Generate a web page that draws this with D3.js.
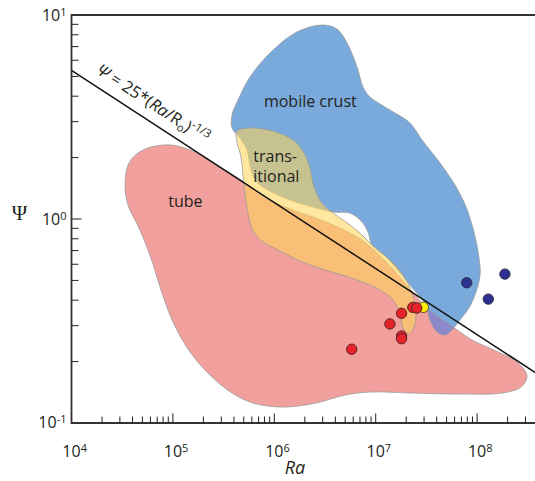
<!DOCTYPE html>
<html><head><meta charset="utf-8">
<script src="https://cdn.jsdelivr.net/npm/d3@7"></script>
<style>body{margin:0;background:#fff} svg{display:block;background:#fff}</style>
</head><body><svg id="c" width="535" height="481"></svg>
<script>
// ---------- data ----------
const xDomain = [1e4, 3.8e8];
const yDomain = [0.1, 10];
const xMajorTicks = [1e4, 1e5, 1e6, 1e7, 1e8];
const xTickExponents = ["4", "5", "6", "7", "8"];
const yMajorTicks = [10, 1, 0.1];
const yTickExponents = ["1", "0", "-1"];

// region outlines, [log10 Ra, log10 Psi]
const tubeOutline = [[4.528,0.167],[4.567,0.275],[4.705,0.338],[4.971,0.363],[5.238,0.324],[5.484,0.250],[5.731,0.172],[5.889,0.113],[6.155,0.049],[6.382,0.010],[6.648,-0.044],[6.875,-0.108],[7.013,-0.167],[7.161,-0.240],[7.289,-0.314],[7.397,-0.377],[7.506,-0.436],[7.762,-0.529],[7.950,-0.593],[8.186,-0.647],[8.394,-0.701],[8.492,-0.770],[8.433,-0.824],[8.246,-0.853],[7.831,-0.858],[7.338,-0.853],[6.944,-0.848],[6.697,-0.863],[6.411,-0.902],[6.086,-0.922],[5.790,-0.902],[5.583,-0.853],[5.366,-0.765],[5.169,-0.652],[5.001,-0.505],[4.883,-0.348],[4.784,-0.191],[4.666,-0.044],[4.557,0.069]];
const mobileOutline = [[6.480,0.951],[6.618,0.931],[6.717,0.863],[6.816,0.745],[6.875,0.647],[6.944,0.598],[7.141,0.534],[7.338,0.471],[7.457,0.387],[7.634,0.275],[7.782,0.167],[7.891,0.059],[7.969,-0.064],[8.019,-0.191],[8.029,-0.275],[7.989,-0.358],[7.920,-0.436],[7.831,-0.495],[7.752,-0.544],[7.683,-0.569],[7.605,-0.554],[7.535,-0.495],[7.496,-0.422],[7.378,-0.348],[7.240,-0.265],[7.102,-0.186],[6.964,-0.127],[6.924,-0.064],[6.865,-0.015],[6.747,0.029],[6.579,0.034],[6.382,0.059],[6.155,0.093],[5.938,0.142],[5.810,0.191],[5.760,0.265],[5.731,0.338],[5.662,0.397],[5.583,0.446],[5.583,0.510],[5.642,0.583],[5.760,0.696],[5.958,0.814],[6.224,0.917]];
const transOutline = [[5.632,0.431],[5.760,0.446],[5.987,0.431],[6.184,0.387],[6.283,0.333],[6.352,0.250],[6.392,0.157],[6.470,0.078],[6.579,0.029],[6.707,-0.015],[6.835,-0.064],[6.954,-0.123],[7.072,-0.172],[7.200,-0.230],[7.299,-0.299],[7.368,-0.377],[7.397,-0.461],[7.378,-0.529],[7.328,-0.564],[7.269,-0.534],[7.240,-0.461],[7.171,-0.397],[7.042,-0.348],[6.894,-0.314],[6.727,-0.284],[6.470,-0.245],[6.253,-0.206],[6.056,-0.157],[5.889,-0.113],[5.790,-0.059],[5.741,0.024],[5.711,0.118],[5.691,0.216],[5.672,0.304],[5.632,0.377]];

// scaling line end points
const lineRa = [1e4, 3.8e8];
const linePsi = [5.35, 0.176];

// model points
const yellowRa = [2.95e7];
const yellowPsi = [0.369];
const redRa = [5.8e6, 1.38e7, 1.80e7, 1.80e7, 1.80e7, 2.32e7, 2.54e7];
const redPsi = [0.230, 0.306, 0.345, 0.267, 0.259, 0.369, 0.366];
const blueRa = [7.9e7, 1.88e8, 1.29e8];
const bluePsi = [0.487, 0.537, 0.405];

const regionLabels = [
  {text: "mobile crust", ra: 7.9e5, psi: 3.54},
  {text: "trans-", ra: 6.2e5, psi: 1.91},
  {text: "itional", ra: 6.2e5, psi: 1.51},
  {text: "tube", ra: 9.0e4, psi: 1.14}
];

// ---------- drawing ----------
const svg = d3.select("#c");
const FONT = "'Open Sans', 'DejaVu Sans', sans-serif";
const INK = "#231f20";
const x = d3.scaleLog().domain(xDomain).range([71.5, 535.9]);
const y = d3.scaleLog().domain(yDomain).range([423, 15]);

const shape = d3.line()
  .x(d => x(Math.pow(10, d[0])))
  .y(d => y(Math.pow(10, d[1])))
  .curve(d3.curveCatmullRomClosed.alpha(0.5));

const defs = svg.append("defs");
defs.append("clipPath").attr("id", "tubeClip")
  .append("path").attr("d", shape(tubeOutline));

const reg = svg.append("g");
reg.append("path").attr("d", shape(tubeOutline)).attr("fill", "#f2a09d");
reg.append("path").attr("d", shape(mobileOutline)).attr("fill", "#7aaadb");
reg.append("path").attr("d", shape(mobileOutline)).attr("fill", "#8b89c9")
  .attr("clip-path", "url(#tubeClip)");
reg.append("path").attr("d", shape(tubeOutline)).attr("fill", "none")
  .attr("stroke", "#9a9a9a").attr("stroke-width", 0.8);
reg.append("path").attr("d", shape(mobileOutline)).attr("fill", "none")
  .attr("stroke", "#9a9a9a").attr("stroke-width", 0.8);
reg.append("path").attr("d", shape(transOutline))
  .attr("fill", "rgb(255,214,92)").attr("fill-opacity", 0.58)
  .attr("stroke", "#9a9a9a").attr("stroke-width", 0.8);

// region labels
svg.append("g").selectAll("text").data(regionLabels).join("text")
  .attr("x", d => x(d.ra)).attr("y", d => y(d.psi))
  .attr("font-family", FONT).attr("font-size", 16).attr("fill", INK)
  .text(d => d.text);

// scaling line
const p0 = [x(lineRa[0]), y(linePsi[0])];
const p1 = [x(lineRa[1]), y(linePsi[1])];
svg.append("line").attr("x1", p0[0]).attr("y1", p0[1]).attr("x2", p1[0]).attr("y2", p1[1])
  .attr("stroke", "#111").attr("stroke-width", 1.5);

// equation label along the line
const ang = Math.atan2(p1[1] - p0[1], p1[0] - p0[0]);
const t = (Math.log10(1.5e4) - Math.log10(lineRa[0])) / (Math.log10(lineRa[1]) - Math.log10(lineRa[0]));
const P = [p0[0] + t * (p1[0] - p0[0]), p0[1] + t * (p1[1] - p0[1])];
const off = 11;
const BL = [P[0] + off * Math.sin(ang), P[1] - off * Math.cos(ang)];
const eq = svg.append("text")
  .attr("transform", `translate(${BL[0]},${BL[1]}) rotate(${ang * 180 / Math.PI})`)
  .attr("font-family", FONT).attr("font-size", 16.5).attr("fill", INK);
eq.append("tspan").attr("font-style", "italic").text("Ψ");
eq.append("tspan").text(" = 25*(");
eq.append("tspan").attr("font-style", "italic").text("Ra");
eq.append("tspan").text("/R");
eq.append("tspan").attr("font-size", 11).attr("dy", 3.5).text("o");
eq.append("tspan").attr("dy", -3.5).text(")");
eq.append("tspan").attr("font-size", 11.5).attr("dy", -6.5).text("-1/3");

// points
const pts = svg.append("g");
function dots(ra, psi, fill, stroke) {
  pts.selectAll(null).data(ra.map((r, i) => [r, psi[i]])).join("circle")
    .attr("cx", d => x(d[0])).attr("cy", d => y(d[1])).attr("r", 5.2)
    .attr("fill", fill).attr("stroke", stroke).attr("stroke-width", 0.9);
}
dots(yellowRa, yellowPsi, "#fff200", "#4a4030");
dots(redRa, redPsi, "#e6222a", "#4a2020");
dots(blueRa, bluePsi, "#2e3192", "#2a2a40");

// frame
const fr = svg.append("g").attr("stroke", "#333").attr("stroke-width", 1.8).attr("fill", "none");
fr.append("path").attr("d", `M${x.range()[1] + 2},${y(10)}H${x(1e4)}V${y(0.1)}H${x.range()[1] + 2}`);

// ticks
const tk = svg.append("g").attr("stroke", INK).attr("stroke-width", 1);
const xMinor = [], yMinor = [];
for (let k = 4; k <= 8; k++) for (let m = 2; m <= 9; m++) { const v = m * Math.pow(10, k); if (v <= xDomain[1]) xMinor.push(v); }
for (let k = -1; k <= 0; k++) for (let m = 2; m <= 9; m++) yMinor.push(m * Math.pow(10, k));
tk.selectAll(null).data(xMinor).join("line")
  .attr("x1", d => x(d)).attr("x2", d => x(d)).attr("y1", y(0.1)).attr("y2", y(0.1) - 6.5);
tk.selectAll(null).data(xMajorTicks.slice(1)).join("line")
  .attr("x1", d => x(d)).attr("x2", d => x(d)).attr("y1", y(0.1)).attr("y2", y(0.1) - 9.5);
tk.selectAll(null).data(yMinor).join("line")
  .attr("y1", d => y(d)).attr("y2", d => y(d)).attr("x1", x(1e4)).attr("x2", x(1e4) + 7);
tk.append("line").attr("y1", y(1)).attr("y2", y(1)).attr("x1", x(1e4)).attr("x2", x(1e4) + 10);

// tick labels
const lab = svg.append("g").attr("font-family", FONT).attr("fill", INK);
xMajorTicks.forEach((v, i) => {
  const tx = lab.append("text").attr("y", 456.5).attr("font-size", 16);
  const base = tx.append("tspan").text("10");
  tx.append("tspan").attr("font-size", 11).attr("dy", -5).text(xTickExponents[i]);
  const w = base.node().getComputedTextLength();
  tx.attr("x", x(v) - w / 2);
});
yMajorTicks.forEach((v, i) => {
  const tx = lab.append("text").attr("x", 66.5).attr("y", y(v) + (v === 0.1 ? 4.5 : 6))
    .attr("font-size", 16).attr("text-anchor", "end");
  tx.append("tspan").text("10");
  tx.append("tspan").attr("font-size", 11).attr("dy", -5).text(yTickExponents[i]);
});

// axis titles
svg.append("text").attr("x", 19.5).attr("y", 220).attr("text-anchor", "middle")
  .attr("font-family", "'Liberation Serif', 'DejaVu Serif', serif").attr("font-size", 21)
  .attr("fill", INK).text("Ψ");
svg.append("text").attr("x", 295).attr("y", 474).attr("text-anchor", "middle")
  .attr("font-family", FONT).attr("font-style", "italic").attr("font-size", 18)
  .attr("fill", INK).text("Ra");
</script></body></html>
